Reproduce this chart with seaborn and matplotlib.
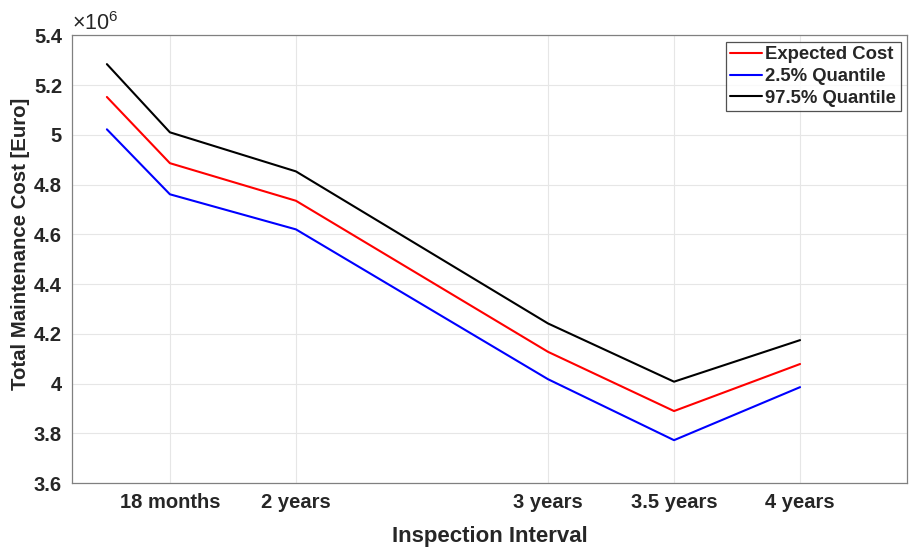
import matplotlib
matplotlib.use("Agg")
import matplotlib.pyplot as plt
import seaborn as sns
import pandas as pd
from matplotlib.ticker import FuncFormatter

# inspection interval in months
interval = [15, 18, 24, 36, 42, 48]
expected = [5.152e6, 4.886e6, 4.735e6, 4.128e6, 3.890e6, 4.079e6]
q025 = [5.022e6, 4.761e6, 4.620e6, 4.018e6, 3.773e6, 3.986e6]
q975 = [5.284e6, 5.010e6, 4.853e6, 4.242e6, 4.008e6, 4.175e6]

tick_pos = [18, 24, 36, 42, 48]
tick_labels = ['18 months', '2 years', '3 years', '3.5 years', '4 years']

names = ['Expected Cost', '2.5% Quantile', '97.5% Quantile']
df = pd.concat([
    pd.DataFrame({'interval': interval, 'cost': v, 'series': n})
    for n, v in zip(names, [expected, q025, q975])
])

sns.set_style('white')
plt.rcParams['font.family'] = ['Liberation Sans', 'DejaVu Sans']
plt.rcParams['mathtext.default'] = 'regular'

fig, ax = plt.subplots(figsize=(9.09, 5.51), dpi=100)
fig.subplots_adjust(left=0.079, right=0.998, top=0.936, bottom=0.123)

sns.lineplot(data=df, x='interval', y='cost', hue='series', hue_order=names,
             palette=['#ff0000', '#0000ff', '#000000'], linewidth=1.5, ax=ax)

ax.set_xlim(13.33, 53.1)
ax.set_ylim(3.6e6, 5.4e6)
ax.set_xticks(tick_pos)
ax.set_xticklabels(tick_labels)
ax.set_yticks([3.6e6 + 0.2e6 * i for i in range(10)])
ax.yaxis.set_major_formatter(FuncFormatter(lambda v, p: '%g' % round(v / 1e6, 2)))

ax.grid(True, color='#e6e6e6', linewidth=0.8)
ax.tick_params(direction='in', length=5, color='#808080', labelsize=14.5,
               labelcolor='#262626', pad=7)
for lab in ax.get_xticklabels() + ax.get_yticklabels():
    lab.set_fontweight('bold')
for s in ax.spines.values():
    s.set_color('#808080')
    s.set_linewidth(0.9)

ax.set_xlabel('Inspection Interval', fontsize=16, fontweight='bold',
              color='#262626', labelpad=10)
ax.set_ylabel('Total Maintenance Cost [Euro]', fontsize=14.7, fontweight='bold',
              color='#262626')
ax.yaxis.set_label_coords(-0.05, 0.535)
ax.text(0.0, 1.0, r'$\times10^{6}$', transform=ax.transAxes, fontsize=15.5,
        color='#262626', ha='left', va='bottom')

leg = ax.legend(loc='upper right', fontsize=13.3, frameon=True, fancybox=False,
                edgecolor='#262626', handlelength=1.7, handletextpad=0.2,
                borderpad=0.25, labelspacing=0.25, borderaxespad=0.35)
leg.get_frame().set_linewidth(0.9)
for t in leg.get_texts():
    t.set_fontweight('bold')

fig.savefig('out.png', dpi=100)
